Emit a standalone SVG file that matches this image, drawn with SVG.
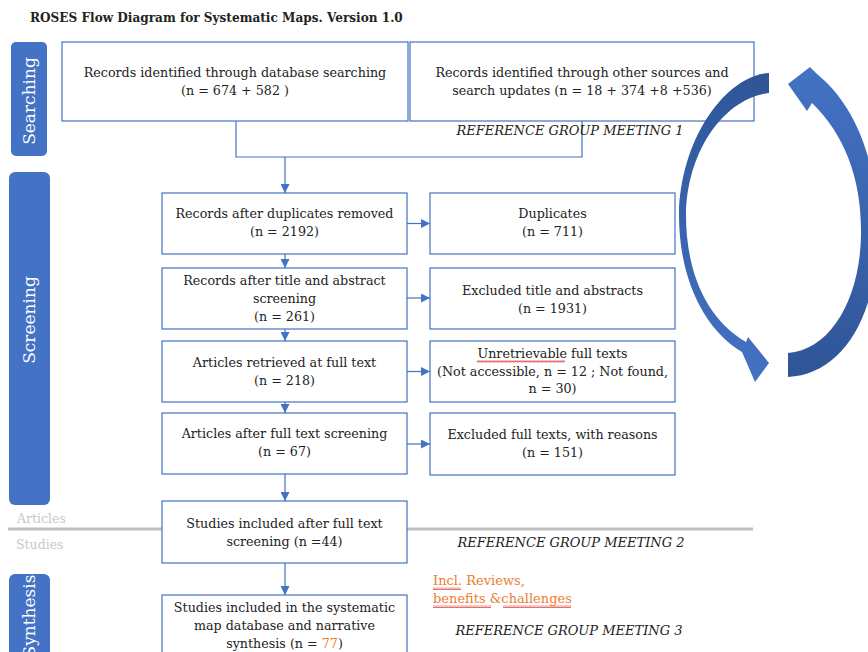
<svg xmlns="http://www.w3.org/2000/svg" width="868" height="652" viewBox="0 0 868 652">
<style>
.box{fill:#fff;stroke:#4472C4;stroke-width:1.2}
.t{font-family:"DejaVu Serif","Liberation Serif",serif;font-size:12.7px;fill:#222;text-anchor:middle}
.ref{font-family:"DejaVu Serif","Liberation Serif",serif;font-size:13px;font-style:italic;fill:#222;text-anchor:middle}
.tab{fill:#4472C4}
.tabt{font-family:"DejaVu Serif","Liberation Serif",serif;font-size:17px;fill:#fff;text-anchor:middle}
.side{font-family:"DejaVu Serif","Liberation Serif",serif;font-size:12.5px;fill:#C8C8C8}
.or{font-family:"DejaVu Serif","Liberation Serif",serif;font-size:13px;fill:#ED7D31}
.con{fill:none;stroke:#4472C4;stroke-width:1.2}
.wave{fill:url(#wv)}
</style>
<defs>
<marker id="ah" viewBox="0 0 10 10" refX="10" refY="5" markerWidth="9" markerHeight="9" markerUnits="userSpaceOnUse" orient="auto">
<path d="M0,0 L10,5 L0,10 Z" fill="#4472C4"/>
</marker>
<pattern id="wv" width="4" height="3" patternUnits="userSpaceOnUse">
<path d="M0,2.5 L1,0.5 L2,2.5 L3,0.5 L4,2.5" fill="none" stroke="#E03030" stroke-width="0.7"/>
</pattern>
<linearGradient id="gl" x1="0" y1="0" x2="0" y2="1">
<stop offset="0" stop-color="#2F5597"/>
<stop offset="1" stop-color="#4472C4"/>
</linearGradient>
<linearGradient id="gr" x1="0" y1="0" x2="0" y2="1">
<stop offset="0" stop-color="#4472C4"/>
<stop offset="1" stop-color="#2F5597"/>
</linearGradient>
</defs>

<text x="30" y="22" font-family="DejaVu Serif, Liberation Serif, serif" font-size="12.1" font-weight="bold" fill="#222">ROSES Flow Diagram for Systematic Maps. Version 1.0</text>

<line x1="8" y1="529" x2="753" y2="529" stroke="#BFBFBF" stroke-width="3"/>
<text class="side" x="17" y="523">Articles</text>
<text class="side" x="16" y="549">Studies</text>

<g id="tab-searching">
<rect class="tab" x="11" y="42" width="36" height="114" rx="5"/>
<text class="tabt" transform="translate(35,101) rotate(-90)">Searching</text>
</g>
<g id="tab-screening">
<rect class="tab" x="9" y="172" width="41" height="333" rx="6"/>
<text class="tabt" transform="translate(35,320) rotate(-90)">Screening</text>
</g>
<g id="tab-synthesis">
<rect class="tab" x="9" y="574" width="41" height="90" rx="6"/>
<text class="tabt" transform="translate(35,616) rotate(-90)">Synthesis</text>
</g>

<g id="connectors">
<path class="con" d="M236,121 V157 H582 V121"/>
<line class="con" x1="285" y1="157" x2="285" y2="193" marker-end="url(#ah)"/>
<line class="con" x1="285" y1="254" x2="285" y2="268" marker-end="url(#ah)"/>
<line class="con" x1="285" y1="329" x2="285" y2="341" marker-end="url(#ah)"/>
<line class="con" x1="285" y1="402" x2="285" y2="413" marker-end="url(#ah)"/>
<line class="con" x1="285" y1="474" x2="285" y2="501" marker-end="url(#ah)"/>
<line class="con" x1="285" y1="563" x2="285" y2="595" marker-end="url(#ah)"/>
<line class="con" x1="407" y1="223.5" x2="430" y2="223.5" marker-end="url(#ah)"/>
<line class="con" x1="407" y1="298" x2="430" y2="298" marker-end="url(#ah)"/>
<line class="con" x1="407" y1="371.5" x2="430" y2="371.5" marker-end="url(#ah)"/>
<line class="con" x1="407" y1="444" x2="430" y2="444" marker-end="url(#ah)"/>
</g>

<g id="n-db">
<rect class="box" x="62" y="42" width="346" height="79"/>
<text class="t" x="235" y="77">Records identified through database searching</text>
<text class="t" x="235" y="95">(n = 674 + 582 )</text>
</g>
<g id="n-other">
<rect class="box" x="410" y="42" width="344" height="79"/>
<text class="t" x="582" y="77">Records identified through other sources and</text>
<text class="t" x="582" y="95">search updates (n = 18 + 374 +8 +536)</text>
</g>
<text class="ref" x="570" y="135">REFERENCE GROUP MEETING 1</text>

<g id="n-dedup">
<rect class="box" x="162" y="193" width="245" height="61"/>
<text class="t" x="284.5" y="218">Records after duplicates removed</text>
<text class="t" x="284.5" y="236">(n = 2192)</text>
</g>
<g id="n-dup">
<rect class="box" x="430" y="193" width="245" height="61"/>
<text class="t" x="552.5" y="218">Duplicates</text>
<text class="t" x="552.5" y="236">(n = 711)</text>
</g>
<g id="n-ta">
<rect class="box" x="162" y="268" width="245" height="61"/>
<text class="t" x="284.5" y="285">Records after title and abstract</text>
<text class="t" x="284.5" y="303">screening</text>
<text class="t" x="284.5" y="321">(n = 261)</text>
</g>
<g id="n-exta">
<rect class="box" x="430" y="268" width="245" height="61"/>
<text class="t" x="552.5" y="295">Excluded title and abstracts</text>
<text class="t" x="552.5" y="313">(n = 1931)</text>
</g>
<g id="n-ft">
<rect class="box" x="162" y="341" width="245" height="61"/>
<text class="t" x="284.5" y="367">Articles retrieved at full text</text>
<text class="t" x="284.5" y="385">(n = 218)</text>
</g>
<g id="n-unret">
<rect class="box" x="430" y="341" width="245" height="61"/>
<text class="t" x="552.5" y="358">Unretrievable full texts</text>
<rect class="wave" x="477" y="360" width="88" height="3"/>
<text class="t" x="552.5" y="376" font-size="12.3">(Not accessible,  n = 12 ; Not found,</text>
<text class="t" x="552.5" y="393">n = 30)</text>
</g>
<g id="n-fts">
<rect class="box" x="162" y="413" width="245" height="61"/>
<text class="t" x="284.5" y="438">Articles after full text screening</text>
<text class="t" x="284.5" y="456">(n = 67)</text>
</g>
<g id="n-exft">
<rect class="box" x="430" y="413" width="245" height="62"/>
<text class="t" x="552.5" y="439">Excluded full texts, with reasons</text>
<text class="t" x="552.5" y="457">(n = 151)</text>
</g>
<g id="n-studies">
<rect class="box" x="162" y="501" width="245" height="62"/>
<text class="t" x="284.5" y="528">Studies included after full text</text>
<text class="t" x="284.5" y="546">screening (n =44)</text>
</g>
<text class="ref" x="571" y="547">REFERENCE GROUP MEETING 2</text>

<g id="n-map">
<rect class="box" x="162" y="595" width="245" height="70"/>
<text class="t" x="284.5" y="612">Studies included in the systematic</text>
<text class="t" x="284.5" y="630">map database and narrative</text>
<text class="t" x="284.5" y="648">synthesis (n = <tspan fill="#ED7D31">77</tspan>)</text>
</g>

<g id="note">
<text class="or" x="433" y="585">Incl. Reviews,</text>
<text class="or" x="433" y="603">benefits &amp;challenges</text>
<rect class="wave" x="433" y="587" width="28" height="3"/>
<rect class="wave" x="433" y="605" width="58" height="3"/>
<rect class="wave" x="503" y="605" width="68" height="3"/>
</g>
<text class="ref" x="569" y="635">REFERENCE GROUP MEETING 3</text>

<g id="cycle">
<path fill="url(#gl)" d="M769,73 C725,76 680,140 679,215 C679,280 705,330 742,352 L755,382 L769,363 L748,337 L746,342 C705,318 686,270 686,215 C687,150 725,98 769,93 Z"/>
<path fill="url(#gr)" d="M788,353 C830,350 860,300 861,235 C862,180 845,135 812,103 L807,111 L788,84 L810,67 L817,74 C855,105 878,160 878,235 C877,320 840,375 788,377 Z"/>
</g>
</svg>
